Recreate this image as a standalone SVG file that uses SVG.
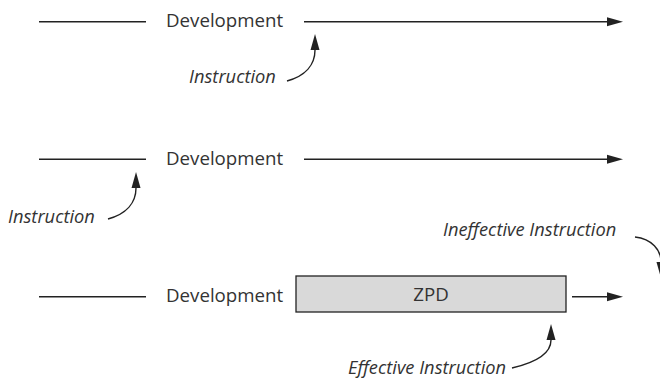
<svg xmlns="http://www.w3.org/2000/svg" width="660" height="379" viewBox="0 0 660 379">
<defs>
<style>
.lbl{font-family:"Open Sans","Noto Sans","Liberation Sans",sans-serif;font-size:18.7px;fill:#333;}
.it{font-family:"Open Sans","Noto Sans","Liberation Sans",sans-serif;font-size:18.3px;font-style:italic;fill:#333;}
.ln{fill:none;stroke:#222;stroke-width:1.4;}
.box{fill:#d9d9d9;stroke:#222;stroke-width:1.3;}
</style>
<marker id="ah" markerUnits="userSpaceOnUse" markerWidth="17" markerHeight="10" refX="0" refY="4.5" orient="auto" overflow="visible">
<path d="M0,0 L16,4.5 L0,9 Z" fill="#222"/>
</marker>
</defs>
<rect width="660" height="379" fill="#fff"/>
<g id="row1">
<text class="lbl" x="166" y="27">Development</text>
</g>
<g id="instruction1">
<text class="it" x="189" y="83">Instruction</text>
</g>
<g id="row2">
<text class="lbl" x="166" y="165">Development</text>
</g>
<g id="instruction2">
<text class="it" x="8" y="223">Instruction</text>
</g>
<g id="row3">
<text class="lbl" x="166" y="302">Development</text>
</g>
<g id="zpd">
<rect class="box" x="296" y="276" width="270" height="36"/>
<text class="lbl" x="431" y="301" text-anchor="middle">ZPD</text>
</g>
<g id="ineffective">
<text class="it" x="443" y="236">Ineffective Instruction</text>
</g>
<g id="effective">
<text class="it" x="348" y="374">Effective Instruction</text>
</g>
<g id="connectors">
<line class="ln" x1="39" y1="21.7" x2="146" y2="21.7"/>
<line class="ln" x1="304" y1="21.7" x2="607" y2="21.7" marker-end="url(#ah)"/>
<line class="ln" x1="39" y1="159.3" x2="146" y2="159.3"/>
<line class="ln" x1="304" y1="159.3" x2="607" y2="159.3" marker-end="url(#ah)"/>
<line class="ln" x1="39" y1="296.7" x2="146" y2="296.7"/>
<line class="ln" x1="572" y1="296.7" x2="607" y2="296.7" marker-end="url(#ah)"/>
<path class="ln" d="M287,81 C305,76 315,65 315,50" marker-end="url(#ah)"/>
<path class="ln" d="M108,219 C126,214 136,203 136,188" marker-end="url(#ah)"/>
<path class="ln" d="M512,368 C538,362 551,352 551,340" marker-end="url(#ah)"/>
<path class="ln" d="M635,237 C652,239 661,250 661,262" marker-end="url(#ah)"/>
</g>
</svg>
